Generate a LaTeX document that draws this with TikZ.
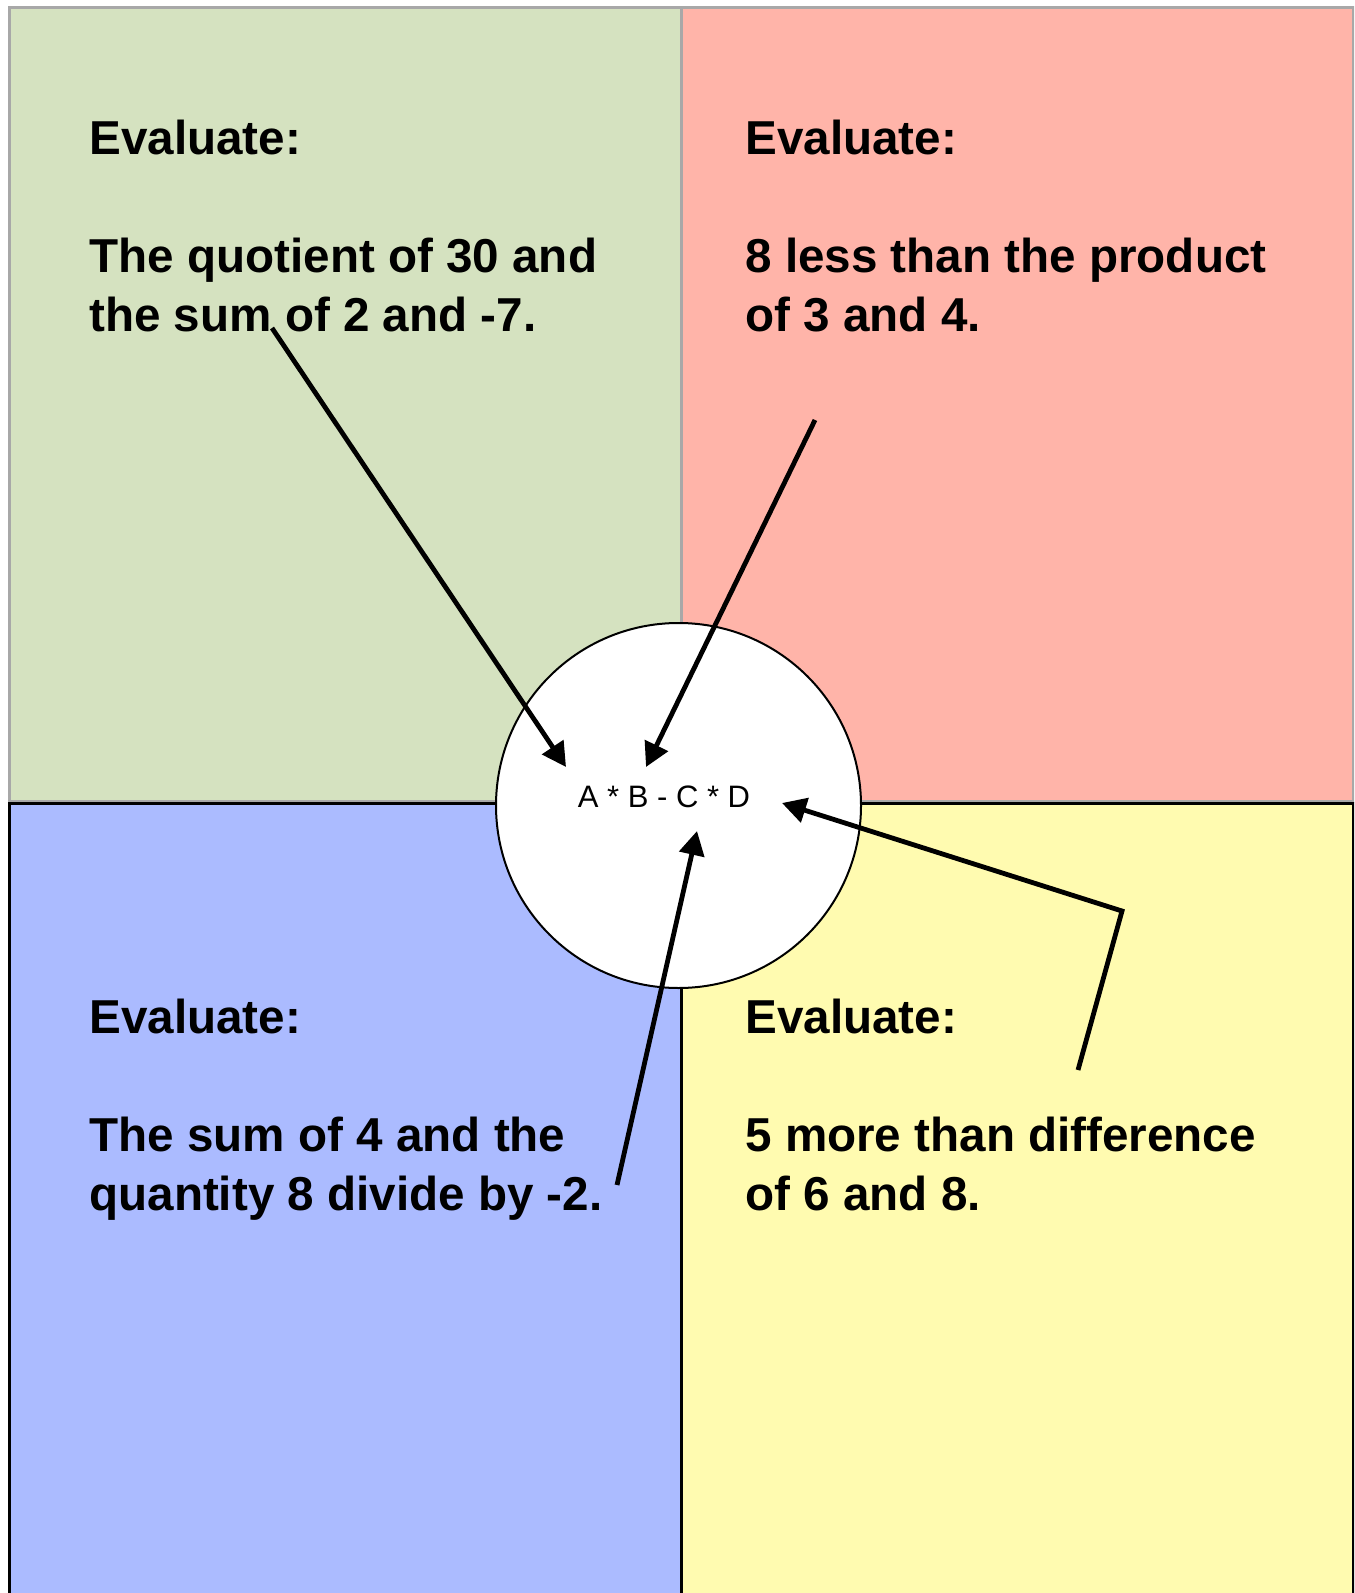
\documentclass[tikz,border=0pt]{standalone}
\usepackage{fontspec}
\setmainfont{Liberation Sans}
\usepackage{tikz}
\usetikzlibrary{arrows.meta, positioning}
\definecolor{quadgreen}{RGB}{213,226,192}
\definecolor{quadred}{RGB}{255,180,169}
\definecolor{quadblue}{RGB}{171,187,255}
\definecolor{quadyellow}{RGB}{255,251,176}
\definecolor{quadedge}{RGB}{168,168,168}

\begin{document}
\begin{tikzpicture}[x=0.5pt, y=-0.5pt,
    quad/.style={draw, rectangle, anchor=north west, inner sep=0pt, line width=1.5pt,
        minimum width=336pt, minimum height=397pt},
    prompt/.style={anchor=base west, align=left, inner sep=0pt,
        font=\bfseries\fontsize{23.8}{29.5}\selectfont},
    pointer/.style={-{Triangle[length=12pt, width=12.5pt]}, line width=2.4pt}]
    \clip (0,0) rectangle (1354,1593);
    % quadrants
    \node[quad, draw=quadedge, fill=quadgreen] (green) at (8,6) {};
    \node[quad, draw=quadedge, fill=quadred] (red) at (680,6) {};
    \node[quad, fill=quadblue, minimum height=420pt] (blue) at (8,802) {};
    \node[quad, fill=quadyellow, minimum height=420pt] (yellow) at (680,802) {};
    % centre
    \node[draw, circle, fill=white, line width=1pt, minimum size=182.5pt, inner sep=0pt]
        (hub) at (678.5,805.5) {};
    \node[font=\fontsize{15.5}{17}\selectfont, anchor=base] (expr) at (664,807)
        {A * B - C * D};
    % prompts (anchored at the last baseline)
    \node[prompt] (qgreen) at (89,332) {Evaluate:\\ \\The quotient of 30 and\\the sum of 2 and -7.};
    \node[prompt] (qred) at (745,332) {Evaluate:\\ \\8 less than the product\\of 3 and 4.};
    \node[prompt] (qblue) at (89,1210) {Evaluate:\\ \\The sum of 4 and the\\quantity 8 divide by -2.};
    \node[prompt] (qyellow) at (745,1210) {Evaluate:\\ \\5 more than difference\\of 6 and 8.};
    % arrow ends
    \coordinate (fromgreen) at (272,328);
    \coordinate (fromred) at (815,420);
    \coordinate (fromblue) at (617,1185);
    \coordinate (fromyellow) at (1078,1070);
    \coordinate (bend) at (1122,911);
    \coordinate (tipa) at (566,767);
    \coordinate (tipb) at (646,767);
    \coordinate (tipc) at (697,831);
    \coordinate (tipd) at (782,803);
    \draw[pointer] (fromgreen) -- (tipa);
    \draw[pointer] (fromred) -- (tipb);
    \draw[pointer] (fromblue) -- (tipc);
    \draw[pointer, line join=miter] (fromyellow) -- (bend) -- (tipd);
\end{tikzpicture}
\end{document}
